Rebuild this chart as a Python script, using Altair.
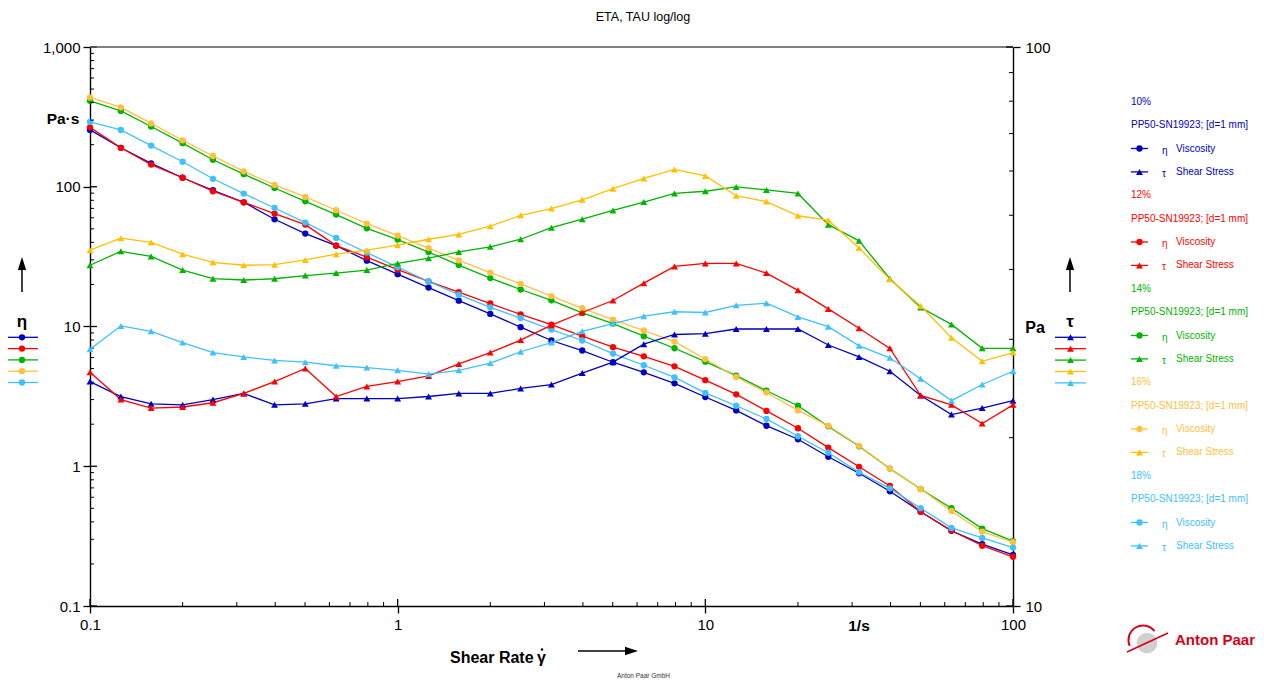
import altair as alt
import pandas as pd

# ---------------- data ----------------
shear_rate = [0.1, 0.126, 0.158, 0.2, 0.251, 0.316, 0.398, 0.501, 0.631, 0.794,
              1.0, 1.26, 1.58, 2.0, 2.51, 3.16, 3.98, 5.01, 6.31, 7.94,
              10.0, 12.6, 15.8, 20.0, 25.1, 31.6, 39.8, 50.1, 63.1, 79.4, 100.0]

samples = ["10%", "12%", "14%", "16%", "18%"]

eta_10 = [255, 190, 147, 116, 94.4, 77.4, 58.5, 46.2, 37.9, 29.6, 23.7, 19.0, 15.3, 12.3, 9.89, 7.94,
          6.73, 5.55, 4.70, 3.92, 3.13, 2.51, 1.95, 1.56, 1.17, 0.891, 0.662, 0.473, 0.345, 0.277, 0.232]
tau_10 = [25.2, 23.7, 23.0, 22.9, 23.4, 24.0, 22.9, 23.0, 23.5, 23.5, 23.5, 23.7, 24.0, 24.0, 24.5, 24.9,
          26.1, 27.3, 29.4, 30.6, 30.7, 31.3, 31.3, 31.3, 29.3, 27.9, 26.3, 23.8, 22.0, 22.6, 23.3]

eta_12 = [266, 190, 144, 116, 92.9, 77.4, 64.2, 53.6, 37.9, 31.4, 25.5, 21.0, 17.6, 14.6, 12.2, 10.3,
          8.52, 7.11, 6.12, 5.19, 4.13, 3.27, 2.49, 1.87, 1.36, 0.991, 0.723, 0.473, 0.347, 0.270, 0.225]
tau_12 = [26.2, 23.4, 22.6, 22.7, 23.1, 24.0, 25.2, 26.6, 23.7, 24.7, 25.2, 25.8, 27.1, 28.4, 29.9, 31.8,
          33.5, 35.2, 37.8, 40.5, 41.0, 41.0, 39.4, 36.7, 34.0, 31.4, 28.9, 23.8, 22.9, 21.2, 22.9]

eta_14 = [412, 349, 270, 205, 156, 123, 98.0, 78.7, 63.2, 50.4, 41.9, 34.1, 27.5, 22.2, 18.4, 15.4,
          12.5, 10.5, 8.52, 6.99, 5.60, 4.45, 3.47, 2.71, 1.93, 1.39, 0.962, 0.687, 0.501, 0.358, 0.291]
tau_14 = [40.7, 43.1, 42.2, 39.9, 38.5, 38.3, 38.5, 39.0, 39.4, 39.9, 41.0, 41.9, 43.0, 43.9, 45.3, 47.5,
          49.2, 51.0, 52.8, 54.7, 55.2, 56.2, 55.5, 54.7, 48.1, 45.0, 38.5, 34.2, 31.9, 28.9, 28.9]

eta_16 = [436, 370, 284, 215, 166, 129, 103, 84.5, 67.9, 54.5, 44.7, 36.4, 29.7, 24.3, 20.2, 16.5,
          13.5, 11.2, 9.36, 7.80, 5.85, 4.35, 3.37, 2.51, 1.95, 1.40, 0.962, 0.687, 0.479, 0.341, 0.286]
tau_16 = [43.3, 45.5, 44.7, 42.6, 41.2, 40.7, 40.8, 41.6, 42.6, 43.3, 44.2, 45.3, 46.2, 47.8, 50.0, 51.4,
          53.3, 55.8, 58.2, 60.4, 58.8, 54.2, 52.9, 49.9, 49.0, 43.7, 38.4, 34.4, 30.2, 27.4, 28.4]

eta_18 = [291, 255, 197, 151, 114, 89.4, 70.5, 55.4, 43.0, 33.8, 26.6, 21.0, 16.9, 13.7, 11.5, 9.51,
          7.94, 6.40, 5.28, 4.33, 3.35, 2.71, 2.18, 1.64, 1.25, 0.906, 0.695, 0.501, 0.362, 0.307, 0.262]
tau_18 = [28.8, 31.7, 31.0, 29.6, 28.4, 27.9, 27.5, 27.3, 26.9, 26.7, 26.4, 26.0, 26.4, 27.2, 28.5, 29.6,
          31.0, 32.0, 33.0, 33.6, 33.5, 34.5, 34.8, 32.9, 31.6, 29.2, 27.8, 25.5, 23.3, 24.9, 26.3]

x_ticks = [0.1, 1, 10, 100]
eta_ticks = [0.1, 1, 10, 100, 1000]
tau_ticks = [10, 100]
x_minor = [m * d for d in (0.1, 1, 10) for m in range(2, 10)]
eta_minor = [m * d for d in (0.1, 1, 10, 100) for m in range(2, 10)]
tau_minor = [m * 10 for m in range(2, 10)]

measuring_system = "PP50-SN19923; [d=1 mm]"

# ---------------- styles ----------------
eta_colors = ["#0000C0", "#FF0000", "#00B400", "#FFC040", "#40C0FF"]
tau_colors = ["#0000C0", "#FF0000", "#00B400", "#FFC000", "#40C0FF"]
FONT = "Liberation Sans"
W, H = 923, 559
OX, OY = 90, 47  # page position of plot origin
TOTAL_W = 1248

eta_series = [eta_10, eta_12, eta_14, eta_16, eta_18]
tau_series = [tau_10, tau_12, tau_14, tau_16, tau_18]
rows = []
for s, es, ts in zip(samples, eta_series, tau_series):
    for r, e, t in zip(shear_rate, es, ts):
        rows.append({"sample": s, "rate": r, "eta": e, "tau": t})
df = pd.DataFrame(rows)

x_enc = alt.X("rate:Q",
              scale=alt.Scale(type="log", domain=[0.1, 100], nice=False),
              axis=alt.Axis(values=x_ticks, labelExpr="format(datum.value, '~g')", title="",
                            grid=False, tickSize=7, tickWidth=1.3, tickColor="black",
                            domainColor="black", domainWidth=1.4, labelFontSize=15,
                            labelFont=FONT, labelColor="black", labelPadding=4,
                            labelFlush=False, labelOverlap=False))
y_eta = alt.Y("eta:Q",
              scale=alt.Scale(type="log", domain=[0.1, 1000], nice=False),
              axis=alt.Axis(values=eta_ticks, orient="left",
                            labelExpr="datum.value >= 1000 ? '1,000' : format(datum.value, '~g')",
                            title="", grid=False, tickSize=7, tickWidth=1.3, tickColor="black",
                            domainColor="black", domainWidth=1.4, labelFontSize=15, labelFont=FONT,
                            labelColor="black", labelPadding=3, labelFlush=False, labelOverlap=False))
y_tau = alt.Y("tau:Q",
              scale=alt.Scale(type="log", domain=[10, 100], nice=False),
              axis=alt.Axis(values=tau_ticks, orient="right",
                            labelExpr="format(datum.value, '~g')",
                            title="", grid=False, tickSize=7, tickWidth=1.3, tickColor="black",
                            domainColor="black", domainWidth=1.4, labelFontSize=15, labelFont=FONT,
                            labelColor="black", labelPadding=5, labelFlush=False, labelOverlap=False))

eta_color = alt.Color("sample:N", scale=alt.Scale(domain=samples, range=eta_colors), legend=None)
tau_color = alt.Color("sample:N", scale=alt.Scale(domain=samples, range=tau_colors), legend=None)

base_eta = alt.Chart(df).encode(x=x_enc, y=y_eta, color=eta_color, detail="sample:N")
eta_lines = base_eta.mark_line(strokeWidth=1.3)
eta_points = base_eta.mark_point(filled=True, shape="circle", size=40, opacity=1)

base_tau = alt.Chart(df).encode(x=x_enc, y=y_tau, color=tau_color, detail="sample:N")
tau_lines = base_tau.mark_line(strokeWidth=1.3)
tau_points = base_tau.mark_point(filled=True, shape="triangle-up", size=48, opacity=1)

# inward minor / major ticks
xminor = alt.Chart(pd.DataFrame({"rate": x_minor})).mark_rule(color="black", strokeWidth=1).encode(
    x=x_enc, y=alt.value(H), y2=alt.value(H - 4))
xmajor = alt.Chart(pd.DataFrame({"rate": x_ticks})).mark_rule(color="black", strokeWidth=1.3).encode(
    x=x_enc, y=alt.value(H), y2=alt.value(H - 7))
eminor = alt.Chart(pd.DataFrame({"eta": eta_minor})).mark_rule(color="black", strokeWidth=1).encode(
    y=y_eta, x=alt.value(0), x2=alt.value(4))
emajor = alt.Chart(pd.DataFrame({"eta": eta_ticks})).mark_rule(color="black", strokeWidth=1.3).encode(
    y=y_eta, x=alt.value(0), x2=alt.value(7))
tminor = alt.Chart(pd.DataFrame({"tau": tau_minor})).mark_rule(color="black", strokeWidth=1).encode(
    y=y_tau, x=alt.value(W - 4), x2=alt.value(W))
tmajor = alt.Chart(pd.DataFrame({"tau": tau_ticks})).mark_rule(color="black", strokeWidth=1.3).encode(
    y=y_tau, x=alt.value(W - 7), x2=alt.value(W))

one = pd.DataFrame({"k": [0]})


def text(xp, yp, s, size=10, color="black", bold=False, align="left", baseline="middle", font=FONT):
    return alt.Chart(one).mark_text(
        text=s, fontSize=size, color=color, fontWeight="bold" if bold else "normal",
        align=align, baseline=baseline, font=font
    ).encode(x=alt.value(xp - OX), y=alt.value(yp - OY))


def seg(x1, y1, x2, y2, color="black", width=1.3):
    return alt.Chart(one).mark_rule(color=color, strokeWidth=width).encode(
        x=alt.value(x1 - OX), y=alt.value(y1 - OY), x2=alt.value(x2 - OX), y2=alt.value(y2 - OY))


def marker(xp, yp, shape, color, size):
    return alt.Chart(one).mark_point(shape=shape, filled=True, opacity=1, color=color, size=size).encode(
        x=alt.value(xp - OX), y=alt.value(yp - OY))


ann = []
# top frame line
ann.append(seg(OX, OY, OX + W, OY, color="#555555", width=1.6))
# title
ann.append(text(643, 17, "ETA, TAU log/log", size=12.5, align="center"))
# left axis unit and legend
ann.append(text(63, 124, "Pa·s", size=15.5, bold=True, align="center", baseline="alphabetic"))
ann.append(seg(22, 268, 22, 292, width=1.5))
ann.append(marker(22, 263.5, "M0,-1L0.64,1L-0.64,1Z", "black", 169))
ann.append(text(22, 327, "η", size=17, bold=True, align="center", baseline="alphabetic"))
for i, c in enumerate(eta_colors):
    yy = 337.3 + 11.3 * i
    ann.append(seg(8, yy, 38, yy, color=c, width=1.3))
    ann.append(marker(22, yy, "circle", c, 40))
# right axis unit and legend
ann.append(text(1035, 333, "Pa", size=16, bold=True, align="center", baseline="alphabetic"))
ann.append(seg(1070, 268, 1070, 292, width=1.5))
ann.append(marker(1070, 263.5, "M0,-1L0.64,1L-0.64,1Z", "black", 169))
ann.append(text(1070, 327, "τ", size=17, bold=True, align="center", baseline="alphabetic"))
for i, c in enumerate(tau_colors):
    yy = 337.3 + 11.4 * i
    ann.append(seg(1055, yy, 1086, yy, color=c, width=1.3))
    ann.append(marker(1070.5, yy, "triangle-up", c, 48))
# series legend on the right
for g, s in enumerate(samples):
    c_txt = eta_colors[g]
    base = 101.7 + 93.5 * g
    ann.append(text(1131, base, s, size=10, color=c_txt))
    ann.append(text(1131, base + 23.4, measuring_system, size=10, color=c_txt))
    y2 = base + 46.8
    ann.append(seg(1131, y2, 1148, y2, color=eta_colors[g]))
    ann.append(marker(1139.5, y2, "circle", eta_colors[g], 40))
    ann.append(text(1162, y2 + 2, "η", size=10, color=c_txt))
    ann.append(text(1176, y2, "Viscosity", size=10, color=c_txt))
    y3 = base + 70.2
    ann.append(seg(1131, y3, 1148, y3, color=tau_colors[g]))
    ann.append(marker(1139.5, y3, "triangle-up", tau_colors[g], 48))
    ann.append(text(1162, y3 + 2, "τ", size=10, color=c_txt))
    ann.append(text(1176, y3, "Shear Stress", size=10, color=c_txt))
# x-axis title, unit, arrow
ann.append(text(450, 663, "Shear Rate", size=16, bold=True, baseline="alphabetic"))
ann.append(text(537, 663, "γ", size=16, bold=True, baseline="alphabetic"))
ann.append(marker(542, 649.5, "circle", "black", 6))
ann.append(seg(578, 651, 627, 651, width=1.5))
ann.append(marker(631.5, 651, "M1,0L-1,0.64L-1,-0.64Z", "black", 169))
ann.append(text(859, 631, "1/s", size=15.5, bold=True, align="center", baseline="alphabetic"))
ann.append(text(643.5, 676, "Anton Paar GmbH", size=6.5, color="#333333", align="center"))
# logo
ann.append(marker(1147, 643, "circle", "#D0D0D0", 430))
ann.append(alt.Chart(one).mark_arc(theta=4.3, theta2=7.2, innerRadius=13.5, outerRadius=15.5,
                                   color="#D9001B").encode(x=alt.value(1143 - OX), y=alt.value(640 - OY)))
ann.append(seg(1127, 652, 1168, 633, color="#D9001B", width=1.6))
ann.append(text(1215, 640, "Anton Paar", size=15, bold=True, color="#D9001B", align="center"))

left = alt.layer(eta_lines, eta_points, xminor, xmajor, eminor, emajor, *ann)
right = alt.layer(tau_lines, tau_points, tminor, tmajor)

chart = alt.layer(left, right).resolve_scale(y="independent", color="independent").properties(
    width=W, height=H,
    padding={"left": OX - 8, "top": OY - 8, "right": TOTAL_W - (OX - 8) - W, "bottom": 75},
    autosize=alt.AutoSizeParams(type="none"),
    background="white",
).configure_view(stroke=None)

chart.save("out.html", embed_options={"renderer": "svg", "actions": False})
